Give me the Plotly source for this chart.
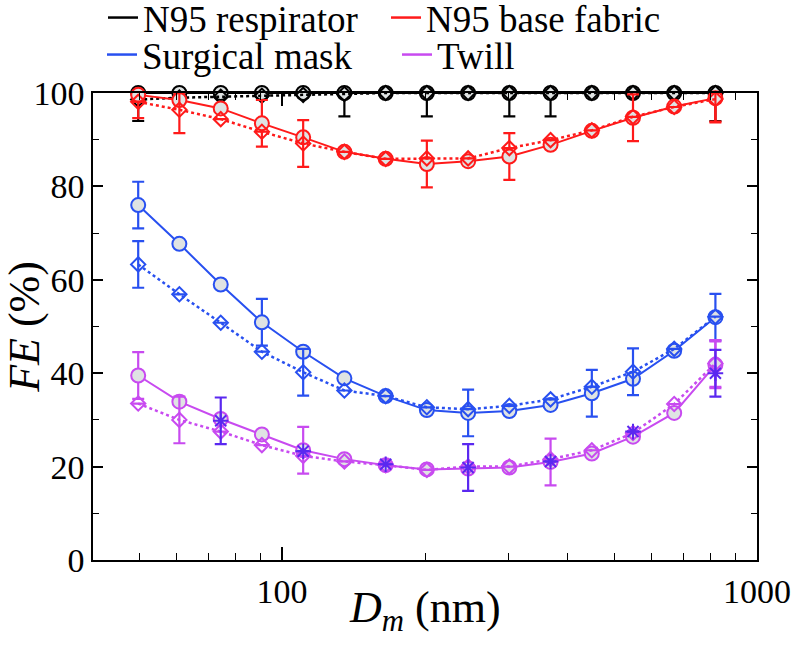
import plotly.graph_objects as go

# Mobility diameter (nm)
dm = [49.8, 60.8, 74.3, 90.7, 110.8, 135.3, 165.3, 201.8, 246.5, 301.0, 367.6, 449.0, 548.2, 669.4, 817.4]

# N95 respirator
resp_circ = [100, 100, 100, 100, 100, 100, 100, 100, 100, 100, 100, 100, 100, 100, 100]
resp_circ_err = [6, None, None, None, None, 5, None, 5, None, 5, 5, None, None, None, 6]
resp_diam = [98.6, 99.0, 99.2, 99.4, 99.6, 99.8, 100, 100, 100, 100, 100, 100, 100, 100, 100]

# N95 base fabric
base_circ = [99.6, 98.5, 96.7, 93.5, 90.5, 87.4, 85.9, 84.8, 85.4, 86.4, 88.9, 91.9, 94.7, 97.1, 98.9]
base_circ_err = [5, None, None, 5, None, None, None, 5, None, 5, None, None, 5, None, 5]
base_diam = [98.1, 96.4, 94.4, 91.7, 89.2, 87.4, 85.9, 86.0, 86.0, 88.2, 89.9, 92.0, 94.9, 97.0, 98.7]
base_diam_err = [None, 5, None, None, 5, None, None, None, None, None, None, None, None, None, 5]

# Surgical mask
surg_circ = [76.0, 67.7, 59.0, 50.9, 44.6, 38.9, 35.1, 32.1, 31.5, 31.9, 33.2, 35.7, 38.8, 44.8, 52.0]
surg_circ_err = [5, None, None, 5, None, None, None, None, 5, None, None, 5, None, None, 5]
surg_diam = [63.3, 56.9, 50.8, 44.6, 40.2, 36.3, 35.1, 32.7, 32.3, 33.0, 34.4, 37.1, 40.3, 45.2, 52.1]
surg_diam_err = [5, None, None, None, 5, None, None, None, None, None, None, None, 5, None, None]

# Twill
twill_circ = [39.5, 33.9, 30.2, 26.9, 23.5, 21.6, 20.3, 19.4, 19.6, 19.8, 21.0, 22.8, 26.4, 31.5, 41.8]
twill_circ_err = [5, None, None, None, 5, None, None, None, None, None, 5, None, None, None, 5]
twill_diam = [33.5, 30.0, 27.5, 24.6, 22.3, 21.1, 20.3, 19.3, 20.0, 20.0, 21.6, 23.5, 27.2, 33.4, 42.1]
twill_diam_err = [None, 5, None, None, None, None, None, None, None, None, None, None, None, None, 5]
twill_ast = [29.8, 23.3, 20.5, 19.8, 21.1, 27.5, 40.0]
twill_ast_err = [5, None, None, 5, None, None, 5]
twill_ast_x = dm[2::2]

# Legend entries and axis titles
legend_names = ["N95 respirator", "N95 base fabric", "Surgical mask", "Twill"]
x_title = "<i>D</i><sub><i>m</i></sub> (nm)"
y_title = "<i>FE</i> (%)"

BLACK = "#000000"
RED = "#ff1a1a"
BLUE = "#2850f0"
PURPLE = "#c84af0"
VIOLET = "#5a28f0"
FILL = "#dfe3e3"
FONT = "Liberation Serif"
W, H = 793, 647


def err_plus(vals, errs):
    return [None if e is None else min(e, 100 - v) for v, e in zip(vals, errs)]


def err_minus(errs):
    return [None if e is None else e for e in errs]


fig = go.Figure()


def add_circles(vals, errs, color):
    fig.add_trace(go.Scatter(
        x=dm, y=vals, mode="lines+markers", showlegend=False, cliponaxis=False,
        line=dict(color=color, width=2),
        marker=dict(symbol="circle", size=14, color=FILL, line=dict(color=color, width=2)),
        error_y=dict(type="data", symmetric=False, array=err_plus(vals, errs),
                     arrayminus=err_minus(errs), color=color, thickness=2.2, width=6),
    ))


def add_diamonds(vals, errs, color):
    ey = None
    if errs is not None:
        ey = dict(type="data", symmetric=False, array=err_plus(vals, errs),
                  arrayminus=err_minus(errs), color=color, thickness=2.2, width=6)
    fig.add_trace(go.Scatter(
        x=dm, y=vals, mode="lines+markers", showlegend=False, cliponaxis=False,
        line=dict(color=color, width=2.5, dash="dot"),
        marker=dict(symbol="diamond-open", size=11, color=color, line=dict(color=color, width=2)),
        error_y=ey,
    ))


add_circles(resp_circ, resp_circ_err, BLACK)
add_diamonds(resp_diam, None, BLACK)
add_circles(base_circ, base_circ_err, RED)
add_diamonds(base_diam, base_diam_err, RED)
add_circles(surg_circ, surg_circ_err, BLUE)
add_diamonds(surg_diam, surg_diam_err, BLUE)
add_circles(twill_circ, twill_circ_err, PURPLE)
add_diamonds(twill_diam, twill_diam_err, PURPLE)

fig.add_trace(go.Scatter(
    x=twill_ast_x, y=twill_ast, mode="markers", showlegend=False, cliponaxis=False,
    marker=dict(symbol="asterisk-open", size=13, color=VIOLET, line=dict(color=VIOLET, width=2)),
    error_y=dict(type="data", symmetric=False, array=err_plus(twill_ast, twill_ast_err),
                 arrayminus=err_minus(twill_ast_err), color=VIOLET, thickness=2.2, width=6),
))

# legend entries (lines only), one legend box per entry for exact placement
legend_pos = [(103, 18), (386, 18), (102, 55), (397, 55)]
legend_ids = ["legend", "legend2", "legend3", "legend4"]
for name, color, lid in zip(legend_names, [BLACK, RED, BLUE, PURPLE], legend_ids):
    fig.add_trace(go.Scatter(x=[None], y=[None], mode="lines", name=name, legend=lid,
                             line=dict(color=color, width=2.5)))

legend_layout = {}
for lid, (px, py) in zip(legend_ids, legend_pos):
    legend_layout[lid] = dict(
        orientation="h", xref="container", yref="container",
        x=px / W, y=1 - py / H, xanchor="left", yanchor="middle",
        font=dict(family=FONT, size=37, color="black"),
        bgcolor="rgba(0,0,0,0)", itemwidth=30,
    )

fig.add_annotation(
    text=x_title, xref="paper", yref="paper", x=0.5, y=0, xanchor="center", yanchor="top",
    yshift=-21, showarrow=False, font=dict(family=FONT, size=44, color="black"),
)

fig.update_layout(
    width=W, height=H,
    margin=dict(l=93, r=36, t=93, b=87, autoexpand=False),
    paper_bgcolor="white", plot_bgcolor="white",
    font=dict(family=FONT, size=34, color="black"),
    xaxis=dict(
        type="log", range=[1.60206, 3.0], automargin=False,
        tickvals=[100, 1000], ticktext=["100", "1000"],
        ticks="inside", ticklen=13, tickwidth=1.5, tickcolor="black",
        showline=True, linecolor="black", linewidth=1.5, mirror="ticks",
        showgrid=False, zeroline=False,
        minor=dict(tickvals=[50, 60, 70, 80, 90, 200, 300, 400, 500, 600, 700, 800, 900],
                   ticks="inside", ticklen=7, tickwidth=1.2, tickcolor="black", showgrid=False),
        tickfont=dict(family=FONT, size=34),
    ),
    yaxis=dict(
        range=[0, 100], dtick=20, tick0=0, automargin=False,
        ticks="inside", ticklen=10, tickwidth=1.5, tickcolor="black",
        showline=True, linecolor="black", linewidth=1.5, mirror="ticks",
        showgrid=False, zeroline=False,
        minor=dict(dtick=10, ticks="inside", ticklen=6, tickwidth=1.2, tickcolor="black", showgrid=False),
        title=dict(text=y_title, font=dict(family=FONT, size=44), standoff=11),
        tickfont=dict(family=FONT, size=34),
    ),
    **legend_layout,
)

fig.write_html("out.html", config={"displayModeBar": False},
               post_script="document.body.style.margin='0px';")
